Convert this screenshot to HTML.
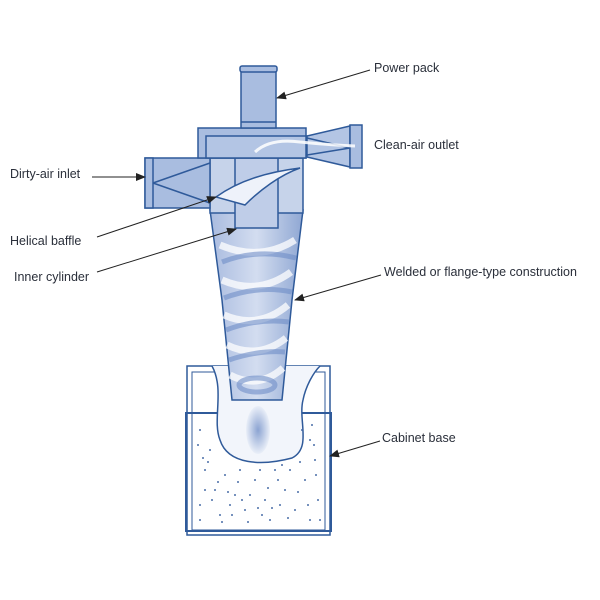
<!DOCTYPE html><html><head><style>body{margin:0;background:#fff}svg{display:block}text{font-family:"Liberation Sans",sans-serif;font-size:12.5px;fill:#2a2f3a}</style></head><body>
<svg width="600" height="600" viewBox="0 0 600 600">
<defs>
<marker id="a" markerWidth="10" markerHeight="8" refX="9" refY="4" orient="auto"><path d="M0,0L10,4L0,8z" fill="#222"/></marker>
<linearGradient id="g" x1="0" x2="1"><stop offset="0" stop-color="#a9bbdf"/><stop offset=".5" stop-color="#d3ddf0"/><stop offset="1" stop-color="#8fa7d3"/></linearGradient>
<radialGradient id="d"><stop offset="0" stop-color="#5f80c0"/><stop offset="1" stop-color="#e6ecf7"/></radialGradient>
</defs>
<g stroke="#2f5a9a" stroke-width="1.5">
<rect x="187" y="366" width="143" height="169" fill="#fff"/>
<rect x="192" y="372" width="133" height="158" fill="none" stroke-width="1"/>
<rect x="186" y="413" width="145" height="118" fill="none" stroke-width="2"/>
</g>
<g fill="#4b6ea8">
<script>/*no*/</script>
</g>
<g fill="#4b6ea8" id="dots"></g>
<g stroke="#2f5a9a" stroke-width="1.5">
<path d="M212,366 C225,390 212,420 220,440 C228,465 262,466 292,458 C312,448 298,420 303,400 C306,385 314,372 320,366" fill="#f2f5fb"/>
<ellipse cx="258" cy="430" rx="12" ry="24" fill="url(#d)" stroke="none" opacity=".7"/>
<path d="M210,210 L303,210 L292,300 L282,400 L232,400 L222,300 Z" fill="url(#g)"/>
<g stroke="#fff" stroke-width="7" fill="none" opacity=".75">
<path d="M220,245 Q260,262 295,240"/><path d="M222,280 Q258,296 291,272"/><path d="M224,315 Q258,330 288,305"/><path d="M227,345 Q258,360 286,338"/><path d="M230,375 Q258,390 283,368"/></g>
<g stroke="#6f8ec8" stroke-width="5" fill="none" opacity=".6">
<path d="M222,262 Q258,248 296,258"/><path d="M224,298 Q258,285 292,292"/><path d="M226,330 Q258,318 289,322"/><path d="M229,360 Q258,350 285,352"/><ellipse cx="257" cy="385" rx="18" ry="7"/></g>
<rect x="210" y="158" width="93" height="55" fill="#c6d3ea"/>
<rect x="235" y="158" width="43" height="70" fill="#bfcde8"/>
<path d="M216,197 C240,180 268,172 300,168 C280,175 260,190 245,205 Z" fill="#eef2fa"/>
<rect x="145" y="158" width="65" height="50" fill="#a9bde0"/>
<rect x="145" y="158" width="8" height="50" fill="#a9bde0"/>
<path d="M153,183 L210,163 M153,183 L210,203" fill="none"/>
<rect x="198" y="128" width="108" height="30" fill="#a9bde0"/>
<rect x="206" y="136" width="100" height="22" fill="#b3c5e4"/>
<path d="M307,136 L350,126 L350,167 L307,157Z" fill="#b3c5e4"/>
<rect x="350" y="125" width="12" height="43" fill="#a9bde0"/>
<path d="M307,138 L350,148 L307,155" fill="none"/>
<rect x="241" y="70" width="35" height="58" fill="#a9bde0"/>
<rect x="240" y="66" width="37" height="6" rx="2" fill="#a9bde0"/>
<line x1="241" y1="122" x2="276" y2="122"/>
</g>
<path d="M255,152 Q270,138 300,142 Q330,145 355,146" stroke="#fff" stroke-width="3" fill="none" opacity=".85"/>
<g fill="#4b6ea8">
<circle cx="200" cy="430" r="1"/><circle cx="210" cy="450" r="1"/><circle cx="205" cy="470" r="1"/><circle cx="215" cy="490" r="1"/><circle cx="200" cy="505" r="1"/><circle cx="225" cy="475" r="1"/><circle cx="235" cy="495" r="1"/><circle cx="245" cy="510" r="1"/><circle cx="255" cy="480" r="1"/><circle cx="265" cy="500" r="1"/><circle cx="275" cy="470" r="1"/><circle cx="285" cy="490" r="1"/><circle cx="295" cy="510" r="1"/><circle cx="305" cy="480" r="1"/><circle cx="315" cy="460" r="1"/><circle cx="310" cy="440" r="1"/><circle cx="318" cy="500" r="1"/><circle cx="220" cy="515" r="1"/><circle cx="270" cy="520" r="1"/><circle cx="300" cy="462" r="1"/><circle cx="240" cy="470" r="1"/><circle cx="320" cy="520" r="1"/><circle cx="290" cy="470" r="1"/><circle cx="250" cy="495" r="1"/><circle cx="230" cy="505" r="1"/><circle cx="280" cy="505" r="1"/><circle cx="205" cy="490" r="1"/><circle cx="260" cy="470" r="1"/><circle cx="312" cy="425" r="1"/>
<circle cx="198" cy="445" r="1"/><circle cx="208" cy="462" r="1"/><circle cx="218" cy="482" r="1"/><circle cx="228" cy="492" r="1"/><circle cx="238" cy="482" r="1"/><circle cx="248" cy="522" r="1"/><circle cx="258" cy="508" r="1"/><circle cx="268" cy="488" r="1"/><circle cx="278" cy="480" r="1"/><circle cx="288" cy="518" r="1"/><circle cx="298" cy="492" r="1"/><circle cx="308" cy="505" r="1"/><circle cx="316" cy="475" r="1"/><circle cx="302" cy="430" r="1"/><circle cx="212" cy="500" r="1"/><circle cx="222" cy="522" r="1"/><circle cx="232" cy="515" r="1"/><circle cx="262" cy="515" r="1"/><circle cx="282" cy="465" r="1"/><circle cx="310" cy="520" r="1"/><circle cx="200" cy="520" r="1"/><circle cx="314" cy="445" r="1"/><circle cx="203" cy="458" r="1"/><circle cx="242" cy="500" r="1"/><circle cx="272" cy="508" r="1"/>
</g>
<g stroke="#222" stroke-width="1" marker-end="url(#a)">
<line x1="370" y1="70" x2="277" y2="98"/>
<line x1="92" y1="177" x2="145" y2="177"/>
<line x1="97" y1="237" x2="216" y2="197"/>
<line x1="97" y1="272" x2="236" y2="229"/>
<line x1="381" y1="275" x2="295" y2="300"/>
<line x1="380" y1="441" x2="330" y2="456"/>
</g>
<text x="374" y="72">Power pack</text>
<text x="374" y="149">Clean-air outlet</text>
<text x="10" y="178">Dirty-air inlet</text>
<text x="10" y="245">Helical baffle</text>
<text x="14" y="281">Inner cylinder</text>
<text x="384" y="276">Welded or flange-type construction</text>
<text x="382" y="442">Cabinet base</text>
</svg></body></html>
